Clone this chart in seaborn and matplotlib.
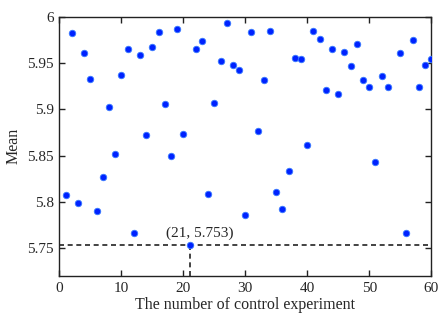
import matplotlib
matplotlib.use("Agg")
import matplotlib.pyplot as plt
import numpy as np
import pandas as pd
import seaborn as sns

# experiment index (run 54 is absent in the source figure)
runs = [1, 2, 3, 4, 5, 6, 7, 8, 9, 10,
        11, 12, 13, 14, 15, 16, 17, 18, 19, 20,
        21, 22, 23, 24, 25, 26, 27, 28, 29, 30,
        31, 32, 33, 34, 35, 36, 37, 38, 39, 40,
        41, 42, 43, 44, 45, 46, 47, 48, 49, 50,
        51, 52, 53, 55, 56, 57, 58, 59, 60]
means = [5.807, 5.982, 5.799, 5.961, 5.933, 5.790, 5.827, 5.902, 5.852, 5.937,
         5.965, 5.766, 5.959, 5.872, 5.967, 5.983, 5.906, 5.850, 5.987, 5.873,
         5.753, 5.965, 5.974, 5.808, 5.907, 5.952, 5.993, 5.948, 5.942, 5.786,
         5.983, 5.877, 5.932, 5.984, 5.811, 5.792, 5.833, 5.955, 5.954, 5.861,
         5.985, 5.976, 5.921, 5.965, 5.917, 5.962, 5.947, 5.970, 5.932, 5.924,
         5.843, 5.936, 5.924, 5.961, 5.766, 5.975, 5.924, 5.948, 5.954]

min_run = 21
min_mean = 5.753
min_label = "(21, 5.753)"

df = pd.DataFrame({"run": runs, "mean": means})

sns.set_style("ticks")
plt.rcParams["font.family"] = ["Liberation Serif", "DejaVu Serif"]

fig = plt.figure(figsize=(4.4, 3.2), dpi=100)
ax = fig.add_axes([0.135, 0.1375, 0.845, 0.8105])

sns.scatterplot(data=df, x="run", y="mean", ax=ax, color="#0022ff",
                s=22, edgecolor="#3a7bff", linewidth=0.6, zorder=3)

# dashed guide lines to the minimum
ax.plot([0, 60], [min_mean, min_mean], color="#222222", lw=1.2,
        linestyle=(0, (3, 2.2)), zorder=2)
ax.plot([min_run, min_run], [5.72, min_mean], color="#222222", lw=1.2,
        linestyle=(0, (3, 2.2)), zorder=2)
ax.text(22.7, 5.7585, min_label, ha="center", va="bottom", fontsize=11)

ax.set_xlim(0, 60)
ax.set_ylim(5.72, 6.0)
ax.set_xticks(np.arange(0, 61, 10))
ax.set_yticks([5.75, 5.8, 5.85, 5.9, 5.95, 6.0])
ax.set_yticklabels(["5.75", "5.8", "5.85", "5.9", "5.95", "6"])
ax.set_xlabel("The number of control experiment", fontsize=11.5, labelpad=2)
ax.set_ylabel("Mean", fontsize=11.5, labelpad=4)

ax.tick_params(direction="in", top=True, right=True, labelsize=11,
               length=4, width=1, color="#222222", pad=4)
for sp in ax.spines.values():
    sp.set_visible(True)
    sp.set_linewidth(1)
    sp.set_color("#222222")

fig.savefig("out.png", dpi=100)
